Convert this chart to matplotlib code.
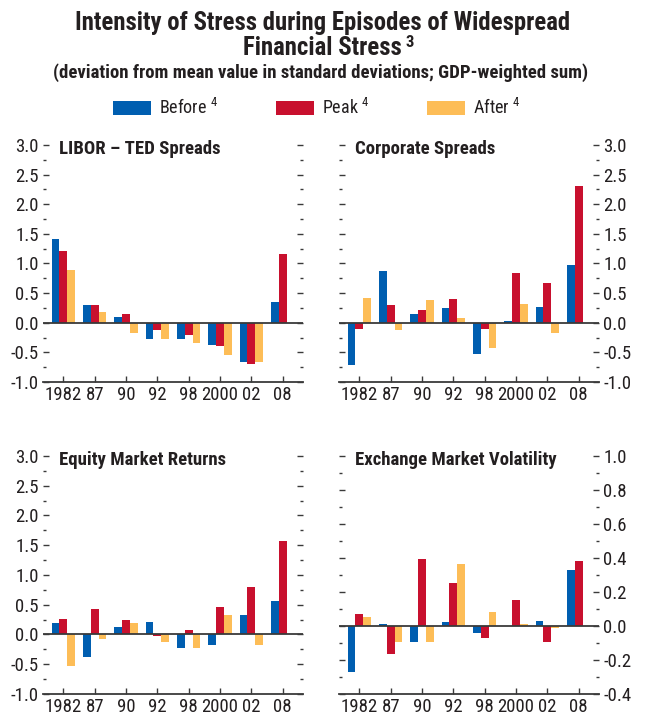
import numpy as np
import matplotlib
matplotlib.use("Agg")
import matplotlib.pyplot as plt
from matplotlib import font_manager
from matplotlib.ticker import MultipleLocator, FormatStrFormatter
from matplotlib.patches import Patch

# pick a narrow sans face if one is installed
weights = {}
for f in font_manager.fontManager.ttflist:
    weights.setdefault(f.name, set()).add(f.weight)
candidates = ['Liberation Sans Narrow', 'Roboto Condensed', 'Fira Sans Condensed',
              'PT Sans Narrow', 'Archivo Narrow', 'Pragati Narrow', 'Liberation Sans']
font = 'DejaVu Sans'
for c in candidates:
    ws = weights.get(c, set())
    if 400 in ws and 700 in ws:
        font = c
        break

plt.rcParams['font.family'] = [font, 'DejaVu Sans']
plt.rcParams['mathtext.fontset'] = 'custom'
plt.rcParams['mathtext.rm'] = font
plt.rcParams['mathtext.bf'] = font + ':bold'

# data
years = ['1982', '87', '90', '92', '98', '2000', '02', '08']
series = ['Before', 'Peak', 'After']
colors = ['#005EB0', '#C8102E', '#FDBD57']

libor_before = [1.42, 0.30, 0.10, -0.27, -0.27, -0.37, -0.66, 0.35]
libor_peak = [1.21, 0.30, 0.15, -0.12, -0.20, -0.40, -0.69, 1.16]
libor_after = [0.89, 0.18, -0.17, -0.27, -0.35, -0.54, -0.66, 0.0]

corp_before = [-0.72, 0.87, 0.15, 0.25, -0.52, 0.03, 0.26, 0.97]
corp_peak = [-0.10, 0.30, 0.21, 0.40, -0.10, 0.84, 0.67, 2.30]
corp_after = [0.42, -0.13, 0.38, 0.08, -0.42, 0.31, -0.17, 0.0]

equity_before = [0.19, -0.38, 0.12, 0.21, -0.22, -0.17, 0.33, 0.56]
equity_peak = [0.26, 0.43, 0.24, -0.02, 0.07, 0.46, 0.80, 1.57]
equity_after = [-0.53, -0.07, 0.19, -0.12, -0.22, 0.33, -0.17, 0.0]

fx_before = [-0.27, 0.01, -0.094, 0.022, -0.041, 0.0, 0.027, 0.327]
fx_peak = [0.069, -0.165, 0.392, 0.25, -0.073, 0.151, -0.094, 0.38]
fx_after = [0.051, -0.094, -0.094, 0.363, 0.08, 0.01, -0.012, 0.0]

panels = [
    ('LIBOR – TED Spreads', [libor_before, libor_peak, libor_after], (-1.0, 3.0), 0.5, 'left'),
    ('Corporate Spreads', [corp_before, corp_peak, corp_after], (-1.0, 3.0), 0.5, 'right'),
    ('Equity Market Returns', [equity_before, equity_peak, equity_after], (-1.0, 3.0), 0.5, 'left'),
    ('Exchange Market Volatility', [fx_before, fx_peak, fx_after], (-0.4, 1.0), 0.2, 'right'),
]

fig = plt.figure(figsize=(6.46, 7.17), dpi=100)

boxes = [
    [0.0666, 0.4672, 0.4025, 0.3306],
    [0.5248, 0.4672, 0.4025, 0.3306],
    [0.0666, 0.0321, 0.4025, 0.3320],
    [0.5248, 0.0321, 0.4025, 0.3320],
]

x = np.arange(len(years))
w = 0.25
dark = '#3a3a3a'
ink = '#231f20'

for box, (title, vals, ylim, step, side) in zip(boxes, panels):
    ax = fig.add_axes(box)
    for i, (v, c) in enumerate(zip(vals, colors)):
        ax.bar(x + (i - 1) * w, v, w, color=c, linewidth=0)
    ax.axhline(0, color=dark, lw=1.3, zorder=3)
    ax.set_xlim(-0.65, 7.65)
    ax.set_ylim(*ylim)
    for s in ['top', 'left', 'right']:
        ax.spines[s].set_visible(False)
    ax.spines['bottom'].set_color(dark)
    ax.spines['bottom'].set_linewidth(1.3)
    ax.set_xticks(x)
    ax.set_xticklabels(years)
    ax.yaxis.set_major_locator(MultipleLocator(step))
    ax.yaxis.set_minor_locator(MultipleLocator(step / 2))
    ax.yaxis.set_major_formatter(FormatStrFormatter('%.1f'))
    ax.tick_params(axis='x', direction='in', length=4, width=1, color=dark,
                   labelsize=13.5, pad=3, labelcolor=ink)
    ax.tick_params(axis='y', which='major', direction='in', length=4, width=1,
                   color=dark, labelsize=13.5, left=True, right=True, labelcolor=ink,
                   labelleft=(side == 'left'), labelright=(side == 'right'), pad=3)
    ax.tick_params(axis='y', which='minor', direction='in', length=2, width=1,
                   color=dark, left=True, right=True)
    ax.text(0.06, 0.985, title, transform=ax.transAxes, fontsize=13.5,
            fontweight='bold', va='center', ha='left', color=ink)

fig.text(0.5, 0.968, 'Intensity of Stress during Episodes of Widespread',
         ha='center', va='center', fontsize=17.8, fontweight='bold', color=ink)
fig.text(0.499, 0.933, 'Financial Stress', ha='center', va='center',
         fontsize=17.8, fontweight='bold', color=ink)
fig.text(0.627, 0.941, '3', ha='left', va='center', fontsize=12,
         fontweight='bold', color=ink)
fig.text(0.497, 0.899,
         '(deviation from mean value in standard deviations; GDP-weighted sum)',
         ha='center', va='center', fontsize=13.5, fontweight='bold', color=ink)

handles = [Patch(facecolor=c, edgecolor='none') for c in colors]
labels = [s + r' $^{\mathrm{4}}$' for s in series]
fig.legend(handles, labels, loc='center', bbox_to_anchor=(0.49, 0.849), ncol=3,
           frameon=False, fontsize=13, handlelength=2.1, handleheight=0.85,
           columnspacing=3.2, handletextpad=0.45, labelcolor=ink)

fig.savefig('out.png', dpi=100)
